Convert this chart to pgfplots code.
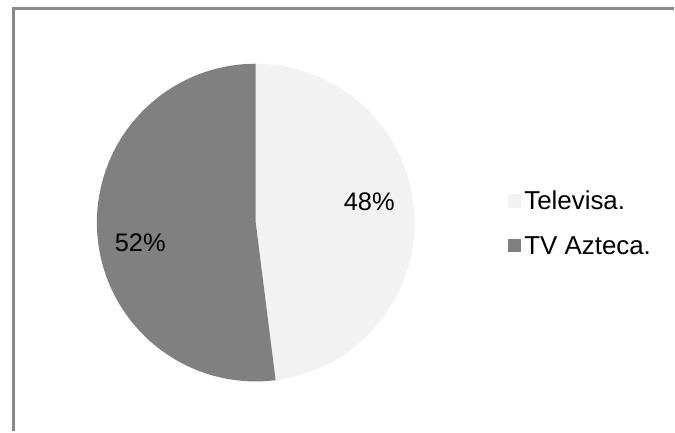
\documentclass[border=0pt]{standalone}
\usepackage{fontspec}
\setmainfont{Liberation Sans}
\usepackage{pgfplots}
\usepackage{pgfplotstable}
\pgfplotsset{compat=1.18}
\definecolor{tv}{HTML}{F2F2F2}
\definecolor{az}{HTML}{808080}
\definecolor{framec}{HTML}{898989}
\pgfplotstableread{
name value
Televisa 48
Azteca 52
}\pietable
\begin{document}
\pgfplotstablegetelem{0}{value}\of\pietable \let\vA\pgfplotsretval
\pgfplotstablegetelem{1}{value}\of\pietable \let\vB\pgfplotsretval
\pgfmathsetmacro{\aEnd}{90-3.6*\vA}
\begin{tikzpicture}
\begin{axis}[
  scale only axis, width=675pt, height=434pt,
  xmin=0, xmax=675, ymin=0, ymax=434,
  hide axis, clip=true,
  legend image code/.code={\fill[#1] (0pt,-6.75pt) rectangle (13.5pt,6.75pt);},
  legend style={at={(axis cs:507,210)}, anchor=west, draw=none, fill=none,
    font=\fontsize{26}{29}\selectfont, row sep=26.5pt, inner sep=0pt,
    nodes={inner sep=0pt, text height=18pt, text depth=0pt}, cells={anchor=west}},
]
\addplot[forget plot, draw=framec, line width=2.7pt] coordinates {(11,1.5) (11,425.3) (673.5,425.3)};
\addplot[draw=none, fill=tv, domain=\aEnd:90, samples=120, variable=\t]
  ({254+159.5*cos(\t)},{210.5+159.5*sin(\t)}) -- (axis cs:254,210.5) -- cycle;
\addlegendentry{\hspace{3pt}Televisa.}
\addplot[draw=none, fill=az, domain=90:\aEnd+360, samples=120, variable=\t]
  ({254+159.5*cos(\t)},{210.5+159.5*sin(\t)}) -- (axis cs:254,210.5) -- cycle;
\addlegendentry{\hspace{3pt}TV Azteca.}
\node[font=\fontsize{25.5}{29}\selectfont] at (axis cs:368,231) {\vA\%};
\node[font=\fontsize{25.5}{29}\selectfont] at (axis cs:138,190.5) {\vB\%};
\end{axis}
\path (current axis.south west) rectangle (current axis.north east);
\end{tikzpicture}
\end{document}
